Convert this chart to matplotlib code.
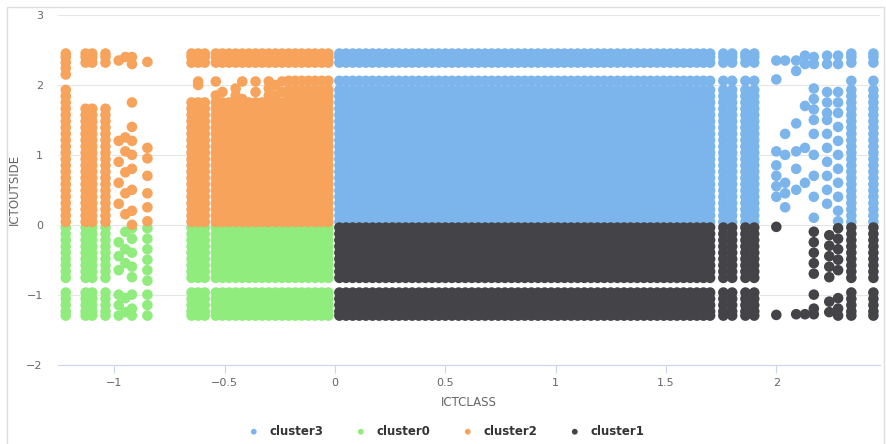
import numpy as np
import matplotlib.pyplot as plt
from matplotlib.patches import Rectangle

# --- values ---
# y levels the data sits on (ICTOUTSIDE)
pos_levels = [0.04, 0.13, 0.22, 0.31, 0.40, 0.49, 0.58, 0.67, 0.76, 0.85, 0.94,
              1.03, 1.12, 1.21, 1.30, 1.39, 1.48, 1.57, 1.66, 1.75, 1.84, 1.93]
top_levels = [2.06, 2.32, 2.40, 2.45]
neg_upper = [-0.04, -0.13, -0.22, -0.31, -0.40, -0.49, -0.58, -0.67, -0.76]
neg_lower = [-0.97, -1.06, -1.15, -1.24, -1.30]

# dense x columns (ICTCLASS)
dense_right_x = [0.02, 0.05, 0.08, 0.11, 0.14, 0.17, 0.20, 0.23, 0.26, 0.29, 0.32,
                 0.35, 0.38, 0.41, 0.44, 0.47, 0.50, 0.53, 0.56, 0.59, 0.62, 0.65,
                 0.68, 0.71, 0.74, 0.77, 0.80, 0.83, 0.86, 0.89, 0.92, 0.95, 0.98,
                 1.01, 1.04, 1.07, 1.10, 1.13, 1.16, 1.19, 1.22, 1.25, 1.28, 1.31,
                 1.34, 1.37, 1.40, 1.43, 1.46, 1.49, 1.52, 1.55, 1.58]
dense_left_x = [-0.65, -0.62, -0.59, -0.54, -0.51, -0.48, -0.45, -0.42, -0.39,
                -0.36, -0.33, -0.30, -0.27, -0.24, -0.21, -0.18, -0.15, -0.12,
                -0.09, -0.06, -0.03]
orange_low_x = [-0.65, -0.62, -0.59, -0.54, -0.51, -0.48, -0.45, -0.42, -0.39,
                -0.36, -0.33, -0.30, -0.27, -0.24]
orange_high_x = [-0.21, -0.18, -0.15, -0.12, -0.09, -0.06, -0.03]
right_cols_x = [1.61, 1.64, 1.67, 1.70, 1.76, 1.80, 1.86, 1.90, 2.34, 2.44]
left_cols_x = [-1.22, -1.13, -1.10, -1.04]

# sparse columns: x -> y values
sparse_blue = {2.00: [0.4, 0.55, 0.7, 0.85, 1.05, 2.08, 2.35],
               2.04: [0.25, 0.45, 0.6, 1.0, 1.3, 2.35],
               2.09: [0.5, 0.8, 1.05, 1.45, 2.2, 2.35],
               2.13: [0.6, 1.1, 1.7, 2.3, 2.42],
               2.17: [0.1, 0.4, 0.7, 1.0, 1.3, 1.5, 1.65, 1.8, 1.95, 2.3, 2.4],
               2.23: [0.3, 0.5, 0.7, 0.9, 1.1, 1.3, 1.5, 1.6, 1.75, 1.9, 2.3, 2.42],
               2.28: [0.05, 0.2, 0.4, 0.6, 0.8, 1.0, 1.2, 1.4, 1.6, 1.75, 1.9, 2.3, 2.42]}
sparse_dark = {2.00: [-0.03, -1.29],
               2.09: [-1.28],
               2.13: [-1.28],
               2.17: [-0.1, -0.25, -0.4, -0.55, -0.7, -1.0, -1.2, -1.28],
               2.24: [-0.15, -0.3, -0.45, -0.6, -0.75, -1.1, -1.25],
               2.28: [-0.05, -0.2, -0.35, -0.5, -0.65, -1.05, -1.2, -1.3]}
sparse_orange = {-0.98: [0.3, 0.6, 0.9, 1.2, 2.35],
                 -0.95: [0.15, 0.45, 0.75, 1.05, 1.25, 2.4],
                 -0.92: [0.0, 0.2, 0.5, 0.8, 1.0, 1.2, 1.4, 1.75, 2.3, 2.4],
                 -0.85: [0.05, 0.25, 0.45, 0.7, 0.95, 1.1, 2.33],
                 -0.62: [2.05, 2.0],
                 -0.54: [1.85, 2.05],
                 -0.51: [1.9],
                 -0.45: [1.85, 1.95],
                 -0.42: [2.05, 1.8],
                 -0.36: [1.9, 2.05],
                 -0.30: [1.85, 1.95, 2.05],
                 -0.27: [1.85, 2.0],
                 -0.24: [1.9, 2.05]}
sparse_green = {-0.98: [-0.25, -0.45, -0.65, -1.0, -1.15, -1.3],
                -0.95: [-0.1, -0.35, -0.55, -1.05, -1.25],
                -0.92: [-0.05, -0.2, -0.4, -0.6, -0.75, -1.0, -1.2, -1.3],
                -0.85: [-0.05, -0.2, -0.35, -0.5, -0.65, -0.8, -1.0, -1.15, -1.3]}

colors = {'cluster3': '#7cb5ec', 'cluster0': '#90ed7d',
          'cluster2': '#f7a35c', 'cluster1': '#434348'}


def grid_points(xs, ys):
    gx, gy = np.meshgrid(xs, ys)
    return gx.ravel(), gy.ravel()


def collect(blocks, sparse):
    xs, ys = [], []
    for bx, by in blocks:
        px, py = grid_points(bx, by)
        xs.extend(px)
        ys.extend(py)
    for x, yl in sparse.items():
        xs.extend([x] * len(yl))
        ys.extend(yl)
    return xs, ys


pos_all = pos_levels + top_levels
neg_all = neg_upper + neg_lower
top_band = top_levels[1:]

series = {
    'cluster3': collect([(dense_right_x, pos_all), (right_cols_x, pos_all)], sparse_blue),
    'cluster0': collect([(dense_left_x, neg_all), (left_cols_x, neg_all)], sparse_green),
    'cluster2': collect([(orange_low_x, pos_levels[:20] + top_band),
                         (orange_high_x, pos_all),
                         (left_cols_x[:1], pos_levels + [2.15, 2.24] + top_band),
                         (left_cols_x[1:], pos_levels[:19] + top_band)], sparse_orange),
    'cluster1': collect([(dense_right_x, neg_all), (right_cols_x, neg_all)], sparse_dark),
}

fig = plt.figure(figsize=(8.86, 4.44), dpi=100)
ax = fig.add_axes([0.0655, 0.179, 0.928, 0.787])

for name, (xs, ys) in series.items():
    ax.scatter(xs, ys, s=58, color=colors[name], edgecolors='none', label=name)

ax.set_xlim(-1.255, 2.471)
ax.set_ylim(-2, 3)
ax.set_xticks([-1, -0.5, 0, 0.5, 1, 1.5, 2])
ax.set_xticklabels(['\u22121', '\u22120.5', '0', '0.5', '1', '1.5', '2'])
ax.set_yticks([-2, -1, 0, 1, 2, 3])
ax.set_yticklabels(['\u22122', '\u22121', '0', '1', '2', '3'])
ax.grid(axis='y', color='#e6e6e6', linewidth=0.8)
ax.set_axisbelow(True)
for s in ['top', 'right', 'left']:
    ax.spines[s].set_visible(False)
ax.spines['bottom'].set_color('#ccd6eb')
ax.tick_params(axis='x', colors='#ccd6eb', labelcolor='#666666', labelsize=8, length=6)
ax.tick_params(axis='y', length=0, labelcolor='#666666', labelsize=8, pad=11)
ax.set_xlabel('ICTCLASS', color='#666666', fontsize=8.5, labelpad=6)
ax.set_ylabel('ICTOUTSIDE', color='#666666', fontsize=8.5, labelpad=4)

leg = fig.legend(loc='lower center', bbox_to_anchor=(0.5, -0.01), ncol=4, frameon=False,
                 markerscale=0.55, handletextpad=0.3, columnspacing=2.2,
                 prop={'weight': 'bold', 'size': 8.5})
for t in leg.get_texts():
    t.set_color('#333333')

fig.patches.append(Rectangle((0.008, -0.01), 0.99, 0.995, transform=fig.transFigure,
                             fill=False, edgecolor='#dddddd', linewidth=1))

fig.savefig('out.png', dpi=100)
